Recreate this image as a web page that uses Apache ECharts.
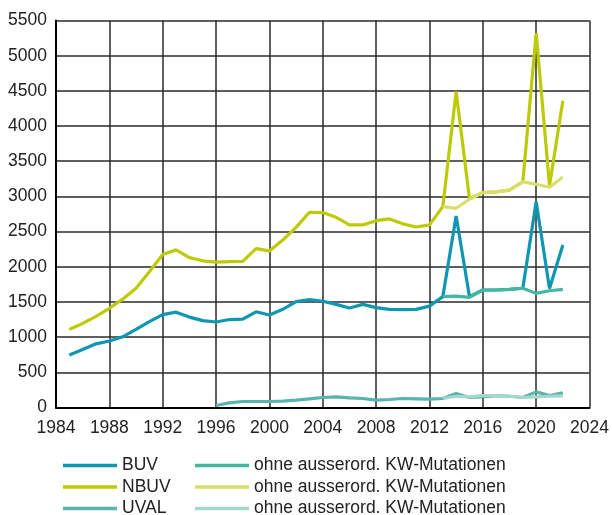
<!DOCTYPE html>
<html>
<head>
<meta charset="utf-8">
<script src="https://cdn.jsdelivr.net/npm/echarts@6/dist/echarts.min.js"></script>
<style>
html, body { margin: 0; padding: 0; background: #fff; }
#chartmain { width: 612px; height: 515px; }
</style>
</head>
<body>
<div id="chartmain"></div>
<script>
// Jahre 1985-2022
var years = [];
for (var y = 1985; y <= 2022; y++) years.push(y);

var buv = [745, 825, 905, 945, 1005, 1110, 1220, 1320, 1355, 1285, 1235, 1215, 1250, 1255, 1360, 1315, 1395, 1505, 1535, 1510, 1465, 1415, 1465, 1420, 1395, 1390, 1395, 1440, 1575, 2720, 1575, 1670, 1670, 1680, 1695, 2925, 1690, 2310];
var nbuv = [1110, 1195, 1295, 1410, 1540, 1695, 1930, 2175, 2240, 2130, 2085, 2065, 2072, 2077, 2257, 2225, 2380, 2560, 2775, 2770, 2703, 2595, 2595, 2655, 2680, 2610, 2565, 2595, 2855, 4490, 2965, 3055, 3065, 3090, 3210, 5320, 3155, 4360];
var uval = [null, null, null, null, null, null, null, null, null, null, null, 28, 66, 85, 85, 85, 90, 104, 123, 142, 151, 137, 128, 104, 114, 128, 123, 118, 128, 199, 142, 151, 170, 160, 142, 222, 170, 208];
var buvOhne = [null, null, null, null, null, null, null, null, null, null, null, null, null, null, null, null, null, null, null, null, null, null, null, null, null, null, null, null, 1575, 1583, 1565, 1670, 1670, 1680, 1695, 1622, 1659, 1680];
var nbuvOhne = [null, null, null, null, null, null, null, null, null, null, null, null, null, null, null, null, null, null, null, null, null, null, null, null, null, null, null, null, 2855, 2831, 2960, 3055, 3065, 3090, 3210, 3172, 3130, 3276];
var uvalOhne = [null, null, null, null, null, null, null, null, null, null, null, null, null, null, null, null, null, null, null, null, null, null, null, null, null, null, null, null, 128, 160, 151, 170, 170, 160, 142, 151, 160, 165];

var ohneText = 'ohne ausserord. KW-Mutationen';

function pairs(vals) {
	var out = [];
	for (var i = 0; i < years.length; i++) out.push([years[i], vals[i]]);
	return out;
}

function line(name, vals, color, z) {
	return {
		name: name,
		type: 'line',
		data: pairs(vals),
		symbol: 'none',
		connectNulls: false,
		z: z,
		lineStyle: { color: color, width: 3.2 },
		itemStyle: { color: color }
	};
}

var font = { fontFamily: 'Liberation Sans, Arial, sans-serif', fontSize: 17.5, color: '#222' };

function legendBox(left, names, gap) {
	return {
		orient: 'vertical',
		left: left,
		top: 450,
		height: 80,
		icon: 'rect',
		itemWidth: 54,
		itemHeight: 3.5,
		itemGap: 0.5,
		itemTextGap: gap,
		textStyle: { fontFamily: font.fontFamily, fontSize: font.fontSize, color: font.color, lineHeight: 21 },
		data: names
	};
}

var legend2 = legendBox(190, ['ohne1', 'ohne2', 'ohne3'], 7);
legend2.formatter = function() { return ohneText; };

var option = {
	animation: false,
	grid: { left: 56, right: 21, top: 20.5, bottom: 107.5 },
	xAxis: {
		type: 'value',
		min: 1984,
		max: 2024,
		interval: 4,
		axisLine: { show: true, lineStyle: { color: '#000', width: 2 } },
		axisTick: { show: false },
		axisLabel: { margin: 12, fontFamily: font.fontFamily, fontSize: font.fontSize, color: font.color,
			formatter: function(v) { return String(v); } },
		splitLine: { show: true, lineStyle: { color: '#2a2a2a', width: 1.5 } }
	},
	yAxis: {
		type: 'value',
		min: 0,
		max: 5500,
		interval: 500,
		axisLine: { show: true, lineStyle: { color: '#000', width: 2 } },
		axisTick: { show: false },
		axisLabel: { margin: 9, fontFamily: font.fontFamily, fontSize: font.fontSize, color: font.color,
			formatter: function(v) { return String(v); } },
		splitLine: { show: true, lineStyle: { color: '#2a2a2a', width: 1.5 } }
	},
	legend: [legendBox(58, ['BUV', 'NBUV', 'UVAL'], 8), legend2],
	series: [
		line('BUV', buv, '#0e97b0', 2),
		line('NBUV', nbuv, '#bccb05', 2),
		line('UVAL', uval, '#58b4ad', 2),
		line('ohne1', buvOhne, '#44b7a1', 3),
		line('ohne2', nbuvOhne, '#d7df6a', 3),
		line('ohne3', uvalOhne, '#a7d7cc', 3)
	]
};

var myChart = echarts.init(document.getElementById('chartmain'));
myChart.setOption(option);
</script>
</body>
</html>
